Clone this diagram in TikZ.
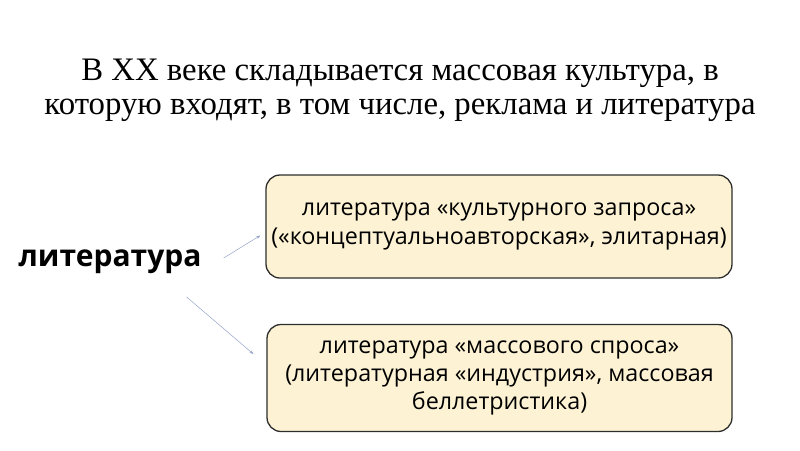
\documentclass[tikz,border=0pt]{standalone}
\usepackage{fontspec}
\setmainfont{Liberation Serif}
\setsansfont{Open Sans}
\usetikzlibrary{arrows.meta,positioning}
\definecolor{boxfill}{RGB}{253,243,212}
\definecolor{boxline}{RGB}{45,45,45}
\definecolor{arrcol}{RGB}{150,162,200}
\tikzset{
	kind/.style={draw=boxline,fill=boxfill,line width=1.3pt,rounded corners=14pt,
		align=center,font=\sffamily\fontsize{23.3}{28.3}\selectfont,inner sep=0pt},
	arr/.style={draw=arrcol,line width=0.5pt,-{Stealth[length=4pt,width=3pt]}}
}
\begin{document}
\begin{tikzpicture}[x=1pt,y=-1pt]
		\useasboundingbox (0,0) rectangle (800,450);
		\node[align=center,font=\fontsize{32.8}{34}\selectfont] (title) at (400,90)
		{В XX веке складывается массовая культура, в\\которую входят, в том числе, реклама и литература};
		
		\node[font=\sffamily\bfseries\fontsize{30}{36}\selectfont,inner sep=0pt] (lit) at (110,262) {литература};
		
		\node[kind,minimum width=466pt,minimum height=103pt] (high) at (499,226.5)
		{литература «культурного запроса»\\(«концептуальноавторская», элитарная)};
		\node[kind,minimum width=465pt,minimum height=107pt] (mass) at (499.5,378)
		{литература «массового спроса»\\(литературная «индустрия», массовая\\беллетристика)};
		
		\draw[arr] ([shift={(22,-4)}]lit.east) -- ([shift={(-5,9)}]high.west);
		\draw[arr] ([shift={(-15,35)}]lit.east) -- ([shift={(-13,-24)}]mass.west);
	\end{tikzpicture}
\end{document}
